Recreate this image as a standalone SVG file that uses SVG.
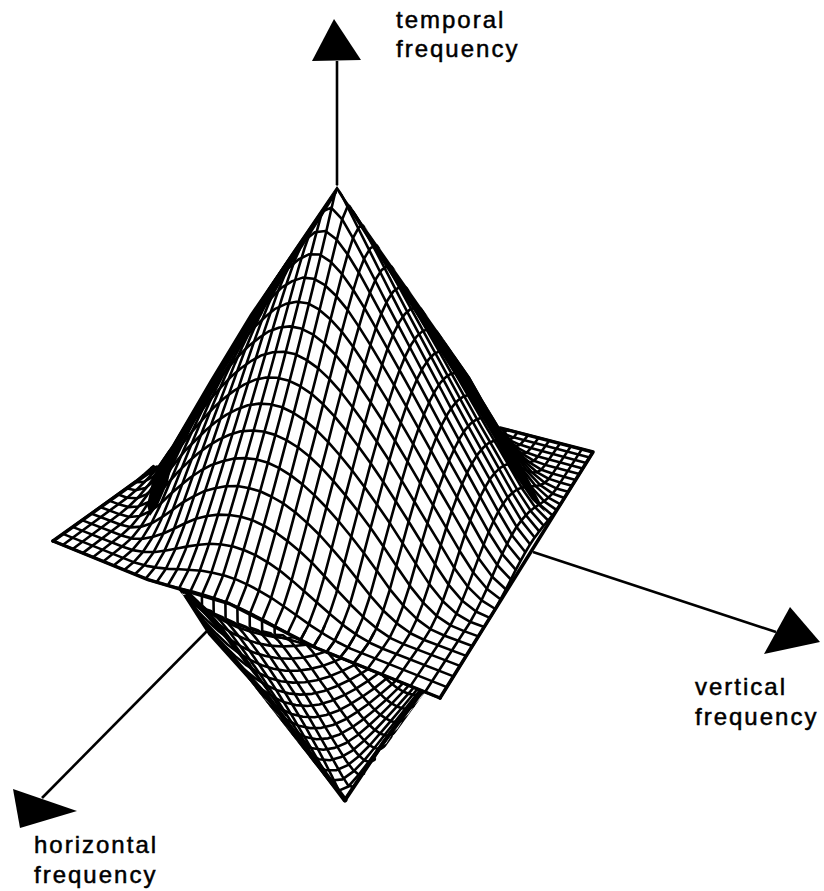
<svg xmlns="http://www.w3.org/2000/svg" width="824" height="891" viewBox="0 0 824 891">
<style>
.v{fill:#fff;stroke:#000;stroke-width:2.6;stroke-linejoin:round;vector-effect:non-scaling-stroke}
.u{fill:none;stroke:#000;stroke-width:2.6;stroke-linejoin:round;vector-effect:non-scaling-stroke}
.ax{stroke:#000;stroke-width:2.6;fill:none}
.e{stroke:#000;fill:none;stroke-linejoin:round;stroke-linecap:round}
.t{font-family:"Liberation Sans",Arial,sans-serif;font-size:24px;letter-spacing:2px;fill:#000;stroke:#000;stroke-width:.5}
</style>
<defs>
<path id="V0" class="v" d="M0,25 26,66 53,125 79,188 107,250 134,313 162,375 189,438 218,500 246,563 275,625 304,688 334,750 363,813 394,875 424,938 455,1000 486,938 518,875 550,813 582,750 614,688 647,625 681,563 715,500 749,438 783,375 818,313 854,250 890,188 926,125 963,66 1000,25"/>
<path id="V1" class="v" d="M0,24 26,64 53,123 79,185 107,247 134,310 162,372 189,434 218,496 246,558 275,620 304,681 334,742 363,802 394,860 424,912 455,938 486,912 518,860 550,802 582,742 614,681 647,620 681,558 715,496 749,434 783,372 818,310 854,247 890,185 926,123 963,64 1000,24"/>
<path id="V2" class="v" d="M0,21 26,59 53,116 79,178 107,240 134,301 162,363 189,424 218,485 246,545 275,605 304,663 334,720 363,775 394,823 424,860 455,875 486,860 518,823 550,775 582,720 614,663 647,605 681,545 715,485 749,424 783,363 818,301 854,240 890,178 926,116 963,59 1000,21"/>
<path id="V3" class="v" d="M0,17 26,52 53,105 79,166 107,227 134,287 162,348 189,407 218,466 246,524 275,581 304,636 334,688 363,735 394,775 424,802 455,813 486,802 518,775 550,735 582,688 614,636 647,581 681,524 715,466 749,407 783,348 818,287 854,227 890,166 926,105 963,52 1000,17"/>
<path id="V4" class="v" d="M0,12 26,42 53,90 79,150 107,209 134,268 162,327 189,384 218,441 246,496 275,549 304,600 334,646 363,688 394,720 424,742 455,750 486,742 518,720 550,688 582,646 614,600 647,549 681,496 715,441 749,384 783,327 818,268 854,209 890,150 926,90 963,42 1000,12"/>
<path id="V5" class="v" d="M0,7 26,31 53,73 79,130 107,188 134,245 162,301 189,356 218,410 246,462 275,512 304,558 334,600 363,636 394,663 424,681 455,688 486,681 518,663 550,636 582,600 614,558 647,512 681,462 715,410 749,356 783,301 818,245 854,188 890,130 926,73 963,31 1000,7"/>
<path id="V6" class="v" d="M0,3 26,20 53,55 79,105 107,161 134,217 162,271 189,324 218,375 246,424 275,470 304,512 334,549 363,581 394,605 424,620 455,625 486,620 518,605 550,581 582,549 614,512 647,470 681,424 715,375 749,324 783,271 818,217 854,161 890,105 926,55 963,20 1000,3"/>
<path id="V7" class="v" d="M0,0 26,11 53,37 79,78 107,132 134,185 162,237 189,287 218,336 246,381 275,424 304,462 334,496 363,524 394,545 424,558 455,563 486,558 518,545 550,524 582,496 614,462 647,424 681,381 715,336 749,287 783,237 818,185 854,132 890,78 926,37 963,11 1000,0"/>
<path id="V8" class="v" d="M0,0 26,4 53,21 79,53 107,99 134,150 162,200 189,247 218,293 246,336 275,375 304,410 334,441 363,466 394,485 424,496 455,500 486,496 518,485 550,466 582,441 614,410 647,375 681,336 715,293 749,247 783,200 818,150 854,99 890,53 926,21 963,4 1000,0"/>
<path id="V9" class="v" d="M0,0 26,0 53,9 79,31 107,66 134,112 162,159 189,205 218,247 246,287 275,324 304,356 334,384 363,407 394,424 424,434 455,438 486,434 518,424 550,407 582,384 614,356 647,324 681,287 715,247 749,205 783,159 818,112 854,66 890,31 926,9 963,0 1000,0"/>
<path id="V10" class="v" d="M0,0 26,0 53,2 79,14 107,38 134,73 162,116 189,159 218,200 246,237 275,271 304,301 334,327 363,348 394,363 424,372 455,375 486,372 518,363 550,348 582,327 614,301 647,271 681,237 715,200 749,159 783,116 818,73 854,38 890,14 926,2 963,0 1000,0"/>
<path id="V11" class="v" d="M0,0 53,0 79,3 107,17 134,41 162,73 189,112 218,150 246,185 275,217 304,245 334,268 363,287 394,301 424,310 455,313 486,310 518,301 550,287 582,268 614,245 647,217 681,185 715,150 749,112 783,73 818,41 854,17 890,3 926,0 1000,0"/>
<path id="V12" class="v" d="M0,0 79,0 107,4 134,17 162,38 189,66 218,99 246,132 275,161 304,188 334,209 363,227 394,240 424,247 455,250 486,247 518,240 550,227 582,209 614,188 647,161 681,132 715,99 749,66 783,38 818,17 854,4 890,0 1000,0"/>
<path id="V13" class="v" d="M0,0 107,0 134,3 162,14 189,31 218,53 246,78 275,105 304,130 334,150 363,166 394,178 424,185 455,188 486,185 518,178 550,166 582,150 614,130 647,105 681,78 715,53 749,31 783,14 818,3 854,0 1000,0"/>
<path id="V14" class="v" d="M0,0 134,0 162,2 189,9 218,21 246,37 275,55 304,73 334,90 363,105 394,116 424,123 455,125 486,123 518,116 550,105 582,90 614,73 647,55 681,37 715,21 749,9 783,2 818,0 1000,0"/>
<path id="V15" class="v" d="M0,0 189,0 218,4 246,11 275,20 304,31 334,42 363,52 394,59 424,64 455,66 486,64 518,59 550,52 582,42 614,31 647,20 681,11 715,4 749,0 1000,0"/>
<path id="V16" class="v" d="M0,0 246,0 275,3 304,7 334,12 363,17 394,21 424,24 455,25 486,24 518,21 550,17 582,12 614,7 647,3 681,0 1000,0"/>
<path id="E16" class="u" d="M0,0 246,0 275,3 304,7 334,12 363,17 394,21 424,24 455,25 486,24 518,21 550,17 582,12 614,7 647,3 681,0 1000,0"/>
<path id="U0" class="u" d="M0,25 43,66 85,125 127,188 167,250 206,313 244,375 282,438 318,500 354,563 389,625 423,688 457,750 490,813 522,875 553,938 584,1000 614,938 643,875 672,813 700,750 728,688 755,625 782,563 808,500 833,438 859,375 883,313 907,250 931,188 955,125 978,66 1000,25"/>
<path id="U1" class="u" d="M0,24 43,64 85,123 127,185 167,247 206,310 244,372 282,434 318,496 354,558 389,620 423,681 457,742 490,802 522,860 553,912 584,938 614,912 643,860 672,802 700,742 728,681 755,620 782,558 808,496 833,434 859,372 883,310 907,247 931,185 955,123 978,64 1000,24"/>
<path id="U2" class="u" d="M0,21 43,59 85,116 127,178 167,240 206,301 244,363 282,424 318,485 354,545 389,605 423,663 457,720 490,775 522,823 553,860 584,875 614,860 643,823 672,775 700,720 728,663 755,605 782,545 808,485 833,424 859,363 883,301 907,240 931,178 955,116 978,59 1000,21"/>
<path id="U3" class="u" d="M0,17 43,52 85,105 127,166 167,227 206,287 244,348 282,407 318,466 354,524 389,581 423,636 457,688 490,735 522,775 553,802 584,813 614,802 643,775 672,735 700,688 728,636 755,581 782,524 808,466 833,407 859,348 883,287 907,227 931,166 955,105 978,52 1000,17"/>
<path id="U4" class="u" d="M0,12 43,42 85,90 127,150 167,209 206,268 244,327 282,384 318,441 354,496 389,549 423,600 457,646 490,688 522,720 553,742 584,750 614,742 643,720 672,688 700,646 728,600 755,549 782,496 808,441 833,384 859,327 883,268 907,209 931,150 955,90 978,42 1000,12"/>
<path id="U5" class="u" d="M0,7 43,31 85,73 127,130 167,188 206,245 244,301 282,356 318,410 354,462 389,512 423,558 457,600 490,636 522,663 553,681 584,688 614,681 643,663 672,636 700,600 728,558 755,512 782,462 808,410 833,356 859,301 883,245 907,188 931,130 955,73 978,31 1000,7"/>
<path id="U6" class="u" d="M0,3 43,20 85,55 127,105 167,161 206,217 244,271 282,324 318,375 354,424 389,470 423,512 457,549 490,581 522,605 553,620 584,625 614,620 643,605 672,581 700,549 728,512 755,470 782,424 808,375 833,324 859,271 883,217 907,161 931,105 955,55 978,20 1000,3"/>
<path id="U7" class="u" d="M0,0 43,11 85,37 127,78 167,132 206,185 244,237 282,287 318,336 354,381 389,424 423,462 457,496 490,524 522,545 553,558 584,563 614,558 643,545 672,524 700,496 728,462 755,424 782,381 808,336 833,287 859,237 883,185 907,132 931,78 955,37 978,11 1000,0"/>
<path id="U8" class="u" d="M0,0 43,4 85,21 127,53 167,99 206,150 244,200 282,247 318,293 354,336 389,375 423,410 457,441 490,466 522,485 553,496 584,500 614,496 643,485 672,466 700,441 728,410 755,375 782,336 808,293 833,247 859,200 883,150 907,99 931,53 955,21 978,4 1000,0"/>
<path id="U9" class="u" d="M0,0 43,0 85,9 127,31 167,66 206,112 244,159 282,205 318,247 354,287 389,324 423,356 457,384 490,407 522,424 553,434 584,438 614,434 643,424 672,407 700,384 728,356 755,324 782,287 808,247 833,205 859,159 883,112 907,66 931,31 955,9 978,0 1000,0"/>
<path id="U10" class="u" d="M0,0 43,0 85,2 127,14 167,38 206,73 244,116 282,159 318,200 354,237 389,271 423,301 457,327 490,348 522,363 553,372 584,375 614,372 643,363 672,348 700,327 728,301 755,271 782,237 808,200 833,159 859,116 883,73 907,38 931,14 955,2 978,0 1000,0"/>
<path id="U11" class="u" d="M0,0 85,0 127,3 167,17 206,41 244,73 282,112 318,150 354,185 389,217 423,245 457,268 490,287 522,301 553,310 584,313 614,310 643,301 672,287 700,268 728,245 755,217 782,185 808,150 833,112 859,73 883,41 907,17 931,3 955,0 1000,0"/>
<path id="U12" class="u" d="M0,0 127,0 167,4 206,17 244,38 282,66 318,99 354,132 389,161 423,188 457,209 490,227 522,240 553,247 584,250 614,247 643,240 672,227 700,209 728,188 755,161 782,132 808,99 833,66 859,38 883,17 907,4 931,0 1000,0"/>
<path id="U13" class="u" d="M0,0 167,0 206,3 244,14 282,31 318,53 354,78 389,105 423,130 457,150 490,166 522,178 553,185 584,188 614,185 643,178 672,166 700,150 728,130 755,105 782,78 808,53 833,31 859,14 883,3 907,0 1000,0"/>
<path id="U14" class="u" d="M0,0 206,0 244,2 282,9 318,21 354,37 389,55 423,73 457,90 490,105 522,116 553,123 584,125 614,123 643,116 672,105 700,90 728,73 755,55 782,37 808,21 833,9 859,2 883,0 1000,0"/>
<path id="U15" class="u" d="M0,0 282,0 318,4 354,11 389,20 423,31 457,42 490,52 522,59 553,64 584,66 614,64 643,59 672,52 700,42 728,31 755,20 782,11 808,4 833,0 1000,0"/>
<path id="U16" class="u" d="M0,0 354,0 389,3 423,7 457,12 490,17 522,21 553,24 584,25 614,24 643,21 672,17 700,12 728,7 755,3 782,0 1000,0"/>
<clipPath id="k3"><rect x="-20" y="-3000" width="147" height="6000"/></clipPath>
<clipPath id="k5"><rect x="-20" y="-3000" width="226" height="6000"/></clipPath>
<clipPath id="k6"><rect x="-20" y="-3000" width="264" height="6000"/></clipPath>
<clipPath id="k7"><rect x="-20" y="-3000" width="302" height="6000"/></clipPath>
<clipPath id="k8"><rect x="-20" y="-3000" width="338" height="6000"/></clipPath>
<clipPath id="k10"><rect x="-20" y="-3000" width="409" height="6000"/></clipPath>
<clipPath id="k11"><rect x="-20" y="-3000" width="443" height="6000"/></clipPath>
<clipPath id="k12"><rect x="-20" y="-3000" width="477" height="6000"/></clipPath>
<clipPath id="k13"><rect x="-20" y="-3000" width="510" height="6000"/></clipPath>
<clipPath id="k14"><rect x="-20" y="-3000" width="542" height="6000"/></clipPath>
<clipPath id="k15"><rect x="-20" y="-3000" width="573" height="6000"/></clipPath>
<clipPath id="k16"><rect x="-20" y="-3000" width="604" height="6000"/></clipPath>
<clipPath id="k17"><rect x="-20" y="-3000" width="634" height="6000"/></clipPath>
<clipPath id="k18"><rect x="-20" y="-3000" width="663" height="6000"/></clipPath>
<clipPath id="k19"><rect x="-20" y="-3000" width="692" height="6000"/></clipPath>
<clipPath id="k20"><rect x="-20" y="-3000" width="720" height="6000"/></clipPath>
<clipPath id="k21"><rect x="-20" y="-3000" width="748" height="6000"/></clipPath>
<clipPath id="k22"><rect x="-20" y="-3000" width="775" height="6000"/></clipPath>
<clipPath id="k24"><rect x="-20" y="-3000" width="828" height="6000"/></clipPath>
<clipPath id="k25"><rect x="-20" y="-3000" width="853" height="6000"/></clipPath>
<clipPath id="k26"><rect x="-20" y="-3000" width="879" height="6000"/></clipPath>
<clipPath id="k27"><rect x="-20" y="-3000" width="903" height="6000"/></clipPath>
<clipPath id="k29"><rect x="-20" y="-3000" width="951" height="6000"/></clipPath>
<clipPath id="bowl"><path d="M175,585L345,803 428,688 300,590Z"/></clipPath>
</defs>
<rect width="824" height="891" fill="#fff"/>
<g id="axes">
<path class="ax" d="M337,61V187"/>
<path class="ax" d="M533,552L776,632"/>
<path class="ax" d="M209,629L42,798"/>
<path d="M334,19L361,60 312,61Z"/>
<path d="M790,607L820,642 764,654Z"/>
<path d="M13,789L77,811 20,828Z"/>
</g>
<g id="lower-sheet">
<g clip-path="url(#bowl)">
<use href="#V0" transform="matrix(.3426,.1089,0,.308,188,443.6)"/>
<use href="#V1" transform="matrix(.3451,.1112,0,.311,180.7,448.8)"/>
<use href="#V2" transform="matrix(.3477,.1136,0,.314,173.4,454.1)"/>
<use href="#V3" transform="matrix(.3503,.1161,0,.3171,165.9,459.5)"/>
<use href="#V4" transform="matrix(.3529,.1186,0,.3203,158.3,465)"/>
<use href="#V5" transform="matrix(.3556,.1212,0,.3235,150.5,470.6)"/>
<use href="#V6" transform="matrix(.3583,.124,0,.3268,142.5,476.4)"/>
<use href="#V7" transform="matrix(.361,.1268,0,.3302,134.4,482.2)"/>
<use href="#V8" transform="matrix(.3638,.1297,0,.3336,126.1,488.2)"/>
<use href="#V9" transform="matrix(.3666,.1327,0,.3371,117.6,494.3)"/>
<use href="#V10" transform="matrix(.3694,.1358,0,.3407,109,500.6)"/>
<use href="#V11" transform="matrix(.3722,.139,0,.3443,100.1,507)"/>
<use href="#V12" transform="matrix(.3751,.1424,0,.348,91.1,513.5)"/>
<use href="#V13" transform="matrix(.378,.1458,0,.3518,81.9,520.1)"/>
<use href="#V14" transform="matrix(.381,.1495,0,.3557,72.5,526.9)"/>
<use href="#V15" transform="matrix(.384,.1532,0,.3597,62.9,533.9)"/>
<use href="#V16" transform="matrix(.387,.1571,0,.3638,53,541)"/>
<use href="#U10" clip-path="url(#k3)" transform="matrix(.2239,-.1804,0,.2885,113.6,565.6)"/>
<use href="#U9" clip-path="url(#k5)" transform="matrix(.2221,-.1824,0,.2903,124.2,569.9)"/>
<use href="#U8" clip-path="url(#k6)" transform="matrix(.2201,-.1844,0,.2922,134.9,574.2)"/>
<use href="#U7" clip-path="url(#k7)" transform="matrix(.2182,-.1865,0,.294,145.7,578.6)"/>
<use href="#U6" clip-path="url(#k8)" transform="matrix(.2161,-.1886,0,.296,156.6,583.1)"/>
<use href="#U5" clip-path="url(#k10)" transform="matrix(.214,-.1908,0,.2979,167.8,587.6)"/>
<use href="#U4" clip-path="url(#k11)" transform="matrix(.2119,-.193,0,.2998,179,592.2)"/>
<use href="#U3" clip-path="url(#k12)" transform="matrix(.2097,-.1952,0,.3018,190.4,596.8)"/>
<use href="#U2" clip-path="url(#k14)" transform="matrix(.2074,-.1974,0,.3039,202,601.5)"/>
<use href="#U1" clip-path="url(#k15)" transform="matrix(.2051,-.1997,0,.3059,213.7,606.2)"/>
<use href="#U0" clip-path="url(#k16)" transform="matrix(.2026,-.2021,0,.308,225.6,611)"/>
<use href="#U1" clip-path="url(#k16)" transform="matrix(.2002,-.2045,0,.3101,237.6,615.9)"/>
<use href="#U2" clip-path="url(#k16)" transform="matrix(.1976,-.2069,0,.3122,249.8,620.9)"/>
<use href="#U3" clip-path="url(#k16)" transform="matrix(.195,-.2094,0,.3143,262.2,625.9)"/>
<use href="#U4" clip-path="url(#k17)" transform="matrix(.1923,-.2119,0,.3165,274.7,631)"/>
<use href="#U5" clip-path="url(#k17)" transform="matrix(.1895,-.2145,0,.3187,287.4,636.1)"/>
<use href="#U6" clip-path="url(#k17)" transform="matrix(.1866,-.2171,0,.321,300.3,641.4)"/>
<use href="#U7" clip-path="url(#k17)" transform="matrix(.1837,-.2197,0,.3233,313.4,646.7)"/>
<use href="#U8" clip-path="url(#k17)" transform="matrix(.1807,-.2224,0,.3256,326.6,652.1)"/>
<use href="#U9" clip-path="url(#k17)" transform="matrix(.1775,-.2252,0,.3279,340.1,657.5)"/>
<use href="#U10" clip-path="url(#k18)" transform="matrix(.1743,-.228,0,.3303,353.7,663.1)"/>
<use href="#U11" clip-path="url(#k18)" transform="matrix(.171,-.2309,0,.3327,367.6,668.7)"/>
<use href="#U12" clip-path="url(#k18)" transform="matrix(.1676,-.2338,0,.3351,381.7,674.4)"/>
<use href="#U13" clip-path="url(#k18)" transform="matrix(.1641,-.2367,0,.3376,395.9,680.2)"/>
<use href="#U14" clip-path="url(#k18)" transform="matrix(.1605,-.2398,0,.3401,410.4,686.1)"/>
<path class="u" d="M190.3,591.7 190.4,601.9M201.9,595.1 202,607.9M213.5,599 213.7,613.5M225.4,603.3 225.6,618.7M237.4,608.5 237.6,623.3M249.7,614.3 249.8,627.4M262,620.6 262.2,631.2M274.6,627.2 274.7,634.8"/>
</g>
<path class="e" stroke-width="5" d="M187,597L210,633 270,700 345,800"/>
<path class="e" stroke-width="4" d="M345,800L383,743 421,693"/>
</g>
<g id="upper-sheet">
<path d="M53,541L148,579.6 229,603.5 316.5,648 440,698 593,452 287,372Z" fill="#fff"/>
<use href="#U6" transform="matrix(.1866,-.2171,-.007,-.321,300.3,641.4)"/>
<use href="#U7" transform="matrix(.1837,-.2197,-.007,-.3233,313.4,646.7)"/>
<use href="#U8" transform="matrix(.1807,-.2224,-.007,-.3256,326.6,652.1)"/>
<use href="#U9" transform="matrix(.1775,-.2252,-.007,-.3279,340.1,657.5)"/>
<use href="#U10" transform="matrix(.1743,-.228,-.007,-.3303,353.7,663.1)"/>
<use href="#V16" transform="matrix(.306,.08,-.007,-.267,287,372)"/>
<use href="#V15" transform="matrix(.3081,.0815,-.007,-.2693,281.6,375.9)"/>
<use href="#V14" transform="matrix(.3102,.083,-.007,-.2716,276.1,379.9)"/>
<use href="#V13" transform="matrix(.3123,.0845,-.007,-.2739,270.5,384)"/>
<use href="#V12" transform="matrix(.3145,.0861,-.007,-.2762,264.8,388)"/>
<use href="#V11" transform="matrix(.3167,.0877,-.007,-.2786,259,392.2)"/>
<use href="#V10" transform="matrix(.3189,.0893,-.007,-.2811,253.1,396.5)"/>
<use href="#V9" transform="matrix(.3211,.091,-.007,-.2835,247.1,400.8)"/>
<use href="#V8" transform="matrix(.3234,.0928,-.007,-.2861,241,405.2)"/>
<use href="#V7" transform="matrix(.3257,.0946,-.007,-.2886,234.8,409.7)"/>
<use href="#V6" transform="matrix(.328,.0965,-.007,-.2913,228.5,414.3)"/>
<use href="#V5" transform="matrix(.3304,.0984,-.007,-.2939,222,419)"/>
<use href="#V4" transform="matrix(.3328,.1004,-.007,-.2966,215.5,423.7)"/>
<use href="#V3" transform="matrix(.3352,.1024,-.007,-.2994,208.8,428.5)"/>
<use href="#V2" transform="matrix(.3376,.1045,-.007,-.3022,202,433.4)"/>
<use href="#V1" transform="matrix(.3401,.1067,-.007,-.3051,195,438.4)"/>
<use href="#V0" transform="matrix(.3426,.1089,-.007,-.308,188,443.6)"/>
<use href="#V1" transform="matrix(.3451,.1112,-.007,-.311,180.7,448.8)"/>
<use href="#V2" transform="matrix(.3477,.1136,-.007,-.314,173.4,454.1)"/>
<use href="#V3" transform="matrix(.3503,.1161,-.007,-.3171,165.9,459.5)"/>
<use href="#V4" transform="matrix(.3529,.1186,-.007,-.3203,158.3,465)"/>
<use href="#V5" transform="matrix(.3556,.1212,-.007,-.3235,150.5,470.6)"/>
<use href="#V6" transform="matrix(.3583,.124,-.007,-.3268,142.5,476.4)"/>
<use href="#V7" transform="matrix(.361,.1268,-.007,-.3302,134.4,482.2)"/>
<use href="#V8" transform="matrix(.3638,.1297,-.007,-.3336,126.1,488.2)"/>
<use href="#V9" transform="matrix(.3666,.1327,-.007,-.3371,117.6,494.3)"/>
<use href="#V10" transform="matrix(.3694,.1358,-.007,-.3407,109,500.6)"/>
<use href="#V11" transform="matrix(.3722,.139,-.007,-.3443,100.1,507)"/>
<use href="#V12" transform="matrix(.3751,.1424,-.007,-.348,91.1,513.5)"/>
<use href="#V13" transform="matrix(.378,.1458,-.007,-.3518,81.9,520.1)"/>
<use href="#V14" transform="matrix(.381,.1495,-.007,-.3557,72.5,526.9)"/>
<use href="#V15" transform="matrix(.384,.1532,-.007,-.3597,62.9,533.9)"/>
<use href="#E16" transform="matrix(.387,.1571,-.007,-.3638,53,541)"/>
<use href="#U16" clip-path="url(#k13)" transform="matrix(.234,-.169,-.007,-.2779,53,541)"/>
<use href="#U15" clip-path="url(#k13)" transform="matrix(.2325,-.1708,-.007,-.2796,62.8,545)"/>
<use href="#U14" clip-path="url(#k13)" transform="matrix(.2308,-.1727,-.007,-.2813,72.7,549)"/>
<use href="#U13" clip-path="url(#k13)" transform="matrix(.2292,-.1745,-.007,-.2831,82.7,553.1)"/>
<use href="#U12" clip-path="url(#k14)" transform="matrix(.2275,-.1765,-.007,-.2849,92.9,557.2)"/>
<use href="#U11" clip-path="url(#k14)" transform="matrix(.2257,-.1784,-.007,-.2866,103.2,561.4)"/>
<use href="#U10" clip-path="url(#k14)" transform="matrix(.2239,-.1804,-.007,-.2885,113.6,565.6)"/>
<use href="#U9" clip-path="url(#k14)" transform="matrix(.2221,-.1824,-.007,-.2903,124.2,569.9)"/>
<use href="#U8" clip-path="url(#k14)" transform="matrix(.2201,-.1844,-.007,-.2922,134.9,574.2)"/>
<use href="#U7" clip-path="url(#k15)" transform="matrix(.2182,-.1865,-.007,-.294,145.7,578.6)"/>
<use href="#U6" clip-path="url(#k15)" transform="matrix(.2161,-.1886,-.007,-.296,156.6,583.1)"/>
<use href="#U5" clip-path="url(#k15)" transform="matrix(.214,-.1908,-.007,-.2979,167.8,587.6)"/>
<use href="#U4" clip-path="url(#k15)" transform="matrix(.2119,-.193,-.007,-.2998,179,592.2)"/>
<use href="#U3" clip-path="url(#k15)" transform="matrix(.2097,-.1952,-.007,-.3018,190.4,596.8)"/>
<use href="#U2" clip-path="url(#k16)" transform="matrix(.2074,-.1974,-.007,-.3039,202,601.5)"/>
<use href="#U1" clip-path="url(#k16)" transform="matrix(.2051,-.1997,-.007,-.3059,213.7,606.2)"/>
<use href="#U0" clip-path="url(#k16)" transform="matrix(.2026,-.2021,-.007,-.308,225.6,611)"/>
<use href="#U1" clip-path="url(#k17)" transform="matrix(.2002,-.2045,-.007,-.3101,237.6,615.9)"/>
<use href="#U2" clip-path="url(#k19)" transform="matrix(.1976,-.2069,-.007,-.3122,249.8,620.9)"/>
<use href="#U3" clip-path="url(#k20)" transform="matrix(.195,-.2094,-.007,-.3143,262.2,625.9)"/>
<use href="#U4" clip-path="url(#k21)" transform="matrix(.1923,-.2119,-.007,-.3165,274.7,631)"/>
<use href="#U5" clip-path="url(#k22)" transform="matrix(.1895,-.2145,-.007,-.3187,287.4,636.1)"/>
<use href="#U6" clip-path="url(#k24)" transform="matrix(.1866,-.2171,-.007,-.321,300.3,641.4)"/>
<use href="#U7" clip-path="url(#k25)" transform="matrix(.1837,-.2197,-.007,-.3233,313.4,646.7)"/>
<use href="#U8" clip-path="url(#k26)" transform="matrix(.1807,-.2224,-.007,-.3256,326.6,652.1)"/>
<use href="#U9" clip-path="url(#k27)" transform="matrix(.1775,-.2252,-.007,-.3279,340.1,657.5)"/>
<use href="#U10" clip-path="url(#k29)" transform="matrix(.1743,-.228,-.007,-.3303,353.7,663.1)"/>
<use href="#U11" transform="matrix(.171,-.2309,-.007,-.3327,367.6,668.7)"/>
<use href="#U12" transform="matrix(.1676,-.2338,-.007,-.3351,381.7,674.4)"/>
<use href="#U13" transform="matrix(.1641,-.2367,-.007,-.3376,395.9,680.2)"/>
<use href="#U14" transform="matrix(.1605,-.2398,-.007,-.3401,410.4,686.1)"/>
<use href="#U15" transform="matrix(.1568,-.2429,-.007,-.3427,425.1,692)"/>
<use href="#U16" transform="matrix(.153,-.246,-.007,-.3453,440,698.1)"/>
<path d="M337,186L470,377 483,400 500,428 592,425 560,200 360,170Z" fill="#fff"/>
<path d="M337,186L250,314 210,380 172,445 157,467 100,430 200,250 320,170Z" fill="#fff"/>
<path d="M337,187L250,314 210,380 172,445 157,467 152,482 147,505 150,516 158,505 168,482 171,468 180,446 215,385 337,193Z"/>
<path d="M337,187L470,377 483,400 500,428 520,462 545,512 532,500 510,468 494,438 476,408 462,386 337,191Z"/>
<path class="e" stroke-width="3.5" d="M500,428L593,452 440,698"/>
<path class="e" stroke-width="3.5" d="M53,541L157,467"/>
<path class="e" stroke-width="3.5" d="M53,541L148,579.6 229,603.5 316.5,648 440,698"/>
</g>
<g id="labels">
<text class="t" x="396" y="28">temporal</text>
<text class="t" x="396" y="57">frequency</text>
<text class="t" x="695" y="695">vertical</text>
<text class="t" x="695" y="725">frequency</text>
<text class="t" x="34" y="853">horizontal</text>
<text class="t" x="34" y="883">frequency</text>
</g>
</svg>
